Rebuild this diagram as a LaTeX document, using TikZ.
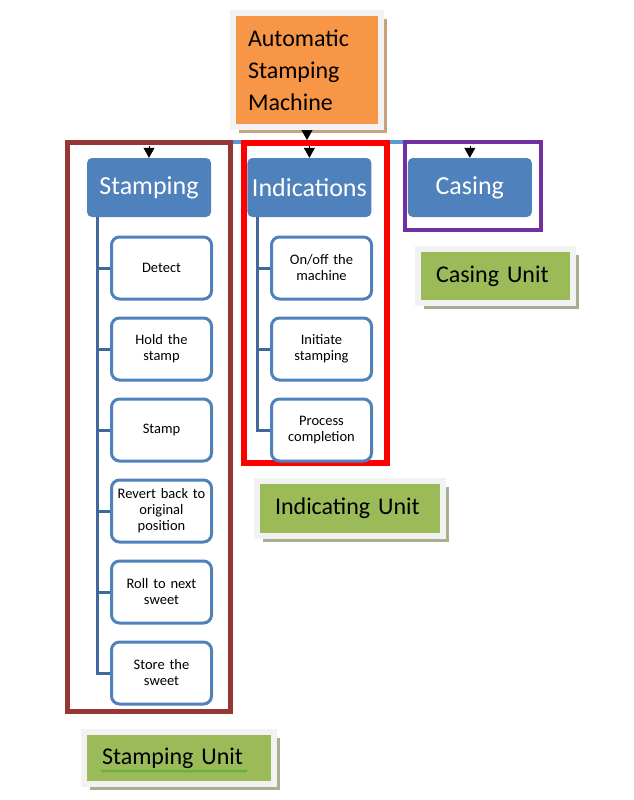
\documentclass[tikz,border=0pt]{standalone}
\usepackage{fontspec}
\setmainfont{Carlito}
\definecolor{MachineOrange}{HTML}{F79646}
\definecolor{BoxBlue}{HTML}{4F81BD}
\definecolor{TrunkBlue}{HTML}{41699C}
\definecolor{BusBlue}{HTML}{5B9BD5}
\definecolor{UnitGreen}{HTML}{9BBB59}
\definecolor{GreenShadow}{HTML}{A8AF90}
\definecolor{TanShadow}{HTML}{C9A27E}
\definecolor{FrameGray}{HTML}{F2F2F2}
\definecolor{StampBrown}{HTML}{953735}
\definecolor{CasePurple}{HTML}{7030A0}
\definecolor{SquiggleGreen}{HTML}{4EA72E}
\usetikzlibrary{arrows.meta,positioning,calc,shadows,decorations.pathmorphing}

\begin{document}
\begin{tikzpicture}[x=1pt, y=-1pt,
      every node/.style={align=center},
      machine/.style={fill=MachineOrange, draw=FrameGray, line width=6pt, minimum width=148pt, minimum height=114pt,
        text width=118pt, inner xsep=15pt, align=left, font=\fontsize{24}{32}\selectfont,
        drop shadow={shadow xshift=6pt, shadow yshift=-6pt, fill=TanShadow, opacity=1}},
      category/.style={fill=BoxBlue, rounded corners=5pt, minimum width=124pt, minimum height=59pt,
        text=white, font=\fontsize{26}{30}\selectfont},
      task/.style={draw=BoxBlue, fill=white, line width=3pt, rounded corners=8pt, minimum width=100pt,
        minimum height=62pt, text width=96pt, inner xsep=2pt, font=\fontsize{14.5}{16}\selectfont},
      unit/.style={fill=UnitGreen, draw=FrameGray, line width=6pt, align=left, inner xsep=18pt,
        font=\fontsize{24}{28}\selectfont,
        drop shadow={shadow xshift=6pt, shadow yshift=-6pt, fill=GreenShadow, opacity=1}},
      trunk/.style={draw=TrunkBlue, line width=3pt},
      arrow/.style={-{Triangle[width=11pt,length=10pt]}, line width=0.6pt},
      frame/.style={line width=5pt}
    ]
      \fill[white] (0,0) rectangle (634,800);
      \useasboundingbox (0,0) rectangle (634,800);

      % bus line and unit frames
      \coordinate (busleft) at (67,142);
      \coordinate (busright) at (541,142);
      \draw[line width=4pt, BusBlue] (busleft) -- (busright);
      \draw[frame, draw=StampBrown] (67.5,142.5) rectangle (230.5,711.5);
      \draw[frame, draw=red, line width=6pt] (244,143) rectangle (387,463);
      \draw[frame, draw=CasePurple, line width=4pt] (405,142) rectangle (541,230);

      \node[machine] (machine) at (307,70) {Automatic\\Stamping\\Machine};
      \node[category] (stamping) at (149,187.5) {Stamping};
      \node[category, right=36pt of stamping] (indications) {Indications};
      \node[category, right=36pt of indications] (casing) {Casing};

      \node[task] (detect) at (161.5,268) {Detect};
      \node[task, below=16pt of detect] (hold) {Hold the\\stamp};
      \node[task, below=16pt of hold] (stamp) {Stamp};
      \node[task, below=16pt of stamp] (revert) {Revert back to\\original\\position};
      \node[task, below=16pt of revert] (roll) {Roll to next\\sweet};
      \node[task, below=16pt of roll] (store) {Store the\\sweet};

      \node[task] (onoff) at (321.5,268) {On/off the\\machine};
      \node[task, below=16pt of onoff] (initiate) {Initiate\\stamping};
      \node[task, below=16pt of initiate] (complete) {Process\\completion};

      \node[unit, text width=119pt, minimum height=54pt] (casingunit) at (495.5,276) {Casing Unit};
      \node[unit, text width=150pt, minimum height=55pt] (indicatingunit) at (350,508.5) {Indicating Unit};
      \node[unit, text width=154pt, minimum height=52pt] (stampingunit) at (179,758) {Stamping\,\,Unit};
      \draw[SquiggleGreen, line width=0.7pt, decorate, decoration={snake, amplitude=1pt, segment length=3pt}]
        ($(stampingunit.center)+(-78,13)$) -- ($(stampingunit.center)+(68,13)$);

      % arrows
      \coordinate (junction) at (307,140);
      \draw[arrow] (machine.south) -- (junction);
      \draw[arrow] ($(stamping.north |- busleft)+(0,4)$) -- (stamping.north);
      \draw[arrow] ($(indications.north |- busleft)+(0,4)$) -- (indications.north);
      \draw[arrow] ($(casing.north |- busleft)+(0,4)$) -- (casing.north);

      % trunks
      \coordinate (stamptrunk) at ([xshift=10.5pt]stamping.south west);
      \coordinate (indtrunk) at ([xshift=10.5pt]indications.south west);
      \draw[trunk] (stamptrunk) |- (store.west);
      \foreach \n in {detect,hold,stamp,revert,roll}
        \draw[trunk] (stamptrunk |- \n.west) -- (\n.west);
      \draw[trunk] (indtrunk) |- (complete.west);
      \foreach \n in {onoff,initiate}
        \draw[trunk] (indtrunk |- \n.west) -- (\n.west);
    \end{tikzpicture}
\end{document}
